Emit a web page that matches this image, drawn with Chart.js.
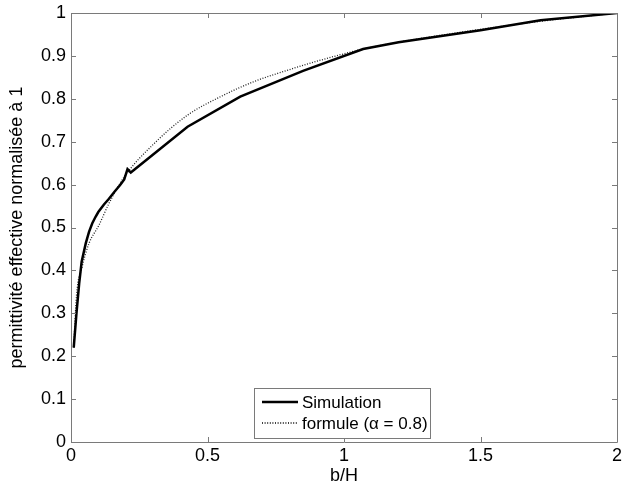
<!DOCTYPE html>
<html>
<head>
<meta charset="utf-8">
<script src="https://cdn.jsdelivr.net/npm/chart.js@4.4.0/dist/chart.umd.min.js"></script>
<style>
  html, body { margin: 0; padding: 0; background: #fff; }
  #wrap { width: 622px; height: 487px; }
</style>
</head>
<body>
<div id="wrap"><canvas id="lineChart" width="622" height="487"></canvas></div>
<script>
// values
var simX = [0.01, 0.02, 0.03, 0.039, 0.054, 0.066, 0.078, 0.09, 0.1, 0.12, 0.139, 0.16, 0.18, 0.195, 0.207, 0.219, 0.427, 0.62, 0.85, 1.07, 1.2, 1.5, 1.72, 2.0];
var simY = [0.22, 0.30, 0.37, 0.42, 0.463, 0.49, 0.51, 0.525, 0.536, 0.553, 0.567, 0.584, 0.599, 0.612, 0.636, 0.628, 0.735, 0.805, 0.865, 0.916, 0.932, 0.960, 0.983, 1.0];

var formX = [0.01, 0.02, 0.041, 0.066, 0.102, 0.139, 0.195, 0.305, 0.427, 0.548, 0.67, 0.8, 0.914, 1.0, 1.07, 1.2, 1.5, 1.75, 2.0];
var formY = [0.22, 0.34, 0.409, 0.463, 0.505, 0.556, 0.618, 0.696, 0.762, 0.805, 0.84, 0.868, 0.89, 0.905, 0.916, 0.932, 0.962, 0.983, 1.0];

var seriesNames = ['Simulation', 'formule (\u03b1 = 0.8)'];
var xTicks = [0, 0.5, 1, 1.5, 2];
var yTicks = [0, 0.1, 0.2, 0.3, 0.4, 0.5, 0.6, 0.7, 0.8, 0.9, 1];

function toPoints(xs, ys) {
  return xs.map(function (x, i) { return { x: x, y: ys[i] }; });
}

var FONT = 'Arial, "Liberation Sans", sans-serif';
var AXIS_COLOR = '#7a7a7a';

// MATLAB style box with inward ticks on all four sides
var boxPlugin = {
  id: 'boxPlugin',
  afterDatasetsDraw: function (chart) {
    var ctx = chart.ctx, a = chart.chartArea;
    var xs = chart.scales.x, ys = chart.scales.y;
    ctx.save();
    ctx.strokeStyle = AXIS_COLOR;
    ctx.lineWidth = 1;
    ctx.beginPath();
    ctx.rect(Math.round(a.left) + 0.5, Math.round(a.top) + 0.5, Math.round(a.right - a.left), Math.round(a.bottom - a.top));
    xTicks.forEach(function (v) {
      var px = Math.round(xs.getPixelForValue(v)) + 0.5;
      ctx.moveTo(px, a.bottom); ctx.lineTo(px, a.bottom - 5);
      ctx.moveTo(px, a.top); ctx.lineTo(px, a.top + 5);
    });
    yTicks.forEach(function (v) {
      var py = Math.round(ys.getPixelForValue(v)) + 0.5;
      ctx.moveTo(a.left, py); ctx.lineTo(a.left + 5, py);
      ctx.moveTo(a.right, py); ctx.lineTo(a.right - 5, py);
    });
    ctx.stroke();

    // legend box inside plot, bottom centre
    var lx = 254, ly = 388, lw = 176, lh = 50;
    ctx.fillStyle = '#fff';
    ctx.fillRect(lx, ly, lw, lh);
    ctx.strokeRect(lx + 0.5, ly + 0.5, lw, lh);
    ctx.font = '17px ' + FONT;
    ctx.textBaseline = 'middle';
    chart.data.datasets.forEach(function (ds, i) {
      var yy = ly + 14 + i * 21;
      ctx.strokeStyle = '#000';
      ctx.lineWidth = ds.borderWidth;
      ctx.setLineDash(ds.borderDash || []);
      ctx.beginPath();
      ctx.moveTo(lx + 8, yy); ctx.lineTo(lx + 44, yy);
      ctx.stroke();
      ctx.setLineDash([]);
      ctx.fillStyle = '#000';
      ctx.fillText(ds.label, lx + 48, yy + 1);
    });
    ctx.restore();
  }
};

function plainLabel(v) { return String(v); }

var ctx = document.getElementById('lineChart').getContext('2d');
new Chart(ctx, {
  type: 'line',
  data: {
    datasets: [
      {
        label: seriesNames[0],
        data: toPoints(simX, simY),
        borderColor: '#000',
        borderWidth: 2.5,
        pointRadius: 0,
        tension: 0
      },
      {
        label: seriesNames[1],
        data: toPoints(formX, formY),
        borderColor: '#222',
        borderWidth: 1.3,
        borderDash: [1, 1.6],
        pointRadius: 0,
        cubicInterpolationMode: 'monotone'
      }
    ]
  },
  options: {
    responsive: false,
    animation: false,
    layout: { padding: { top: 13, right: 5, left: 0, bottom: 0 } },
    plugins: {
      legend: { display: false },
      tooltip: { enabled: false }
    },
    scales: {
      x: {
        type: 'linear',
        min: 0, max: 2,
        afterBuildTicks: function (s) { s.ticks = xTicks.map(function (v) { return { value: v }; }); },
        afterFit: function (s) { s.height = 45; s.paddingLeft = 0; s.paddingRight = 0; },
        grid: { display: false, drawTicks: false },
        border: { display: false },
        ticks: { color: '#000', font: { family: FONT, size: 18 }, padding: 3, maxRotation: 0, callback: plainLabel },
        title: { display: true, text: 'b/H', color: '#000', font: { family: FONT, size: 18 }, padding: { top: 0, bottom: 0 } }
      },
      y: {
        min: 0, max: 1,
        afterBuildTicks: function (s) { s.ticks = yTicks.map(function (v) { return { value: v }; }); },
        afterFit: function (s) { s.width = 71; s.paddingTop = 0; s.paddingBottom = 0; },
        grid: { display: false, drawTicks: false },
        border: { display: false },
        ticks: { color: '#000', font: { family: FONT, size: 18 }, padding: 5, callback: plainLabel },
        title: { display: true, text: 'permittivit\u00e9 effective normalis\u00e9e \u00e0 1', color: '#000', font: { family: FONT, size: 18 }, padding: { top: 6, bottom: 0 } }
      }
    }
  },
  plugins: [boxPlugin]
});
</script>
</body>
</html>
